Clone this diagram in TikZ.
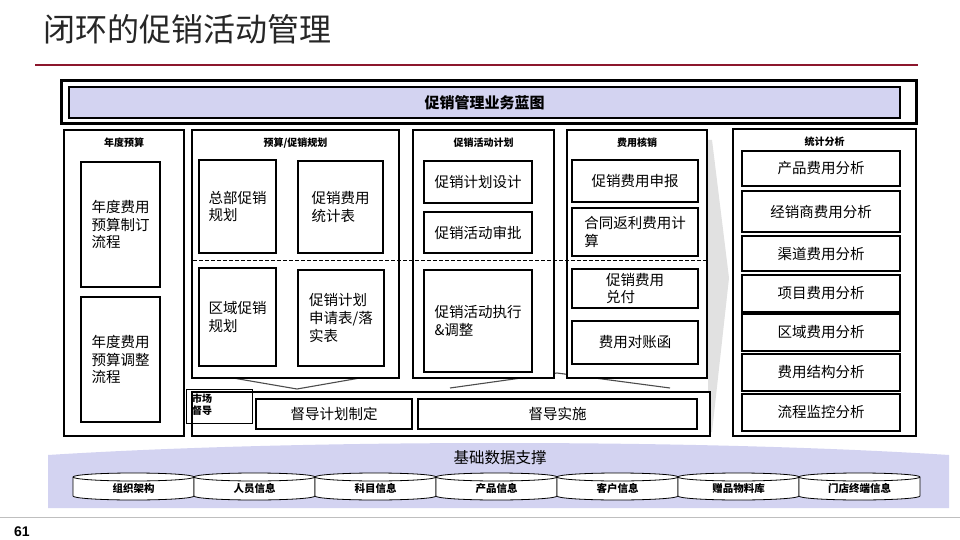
\documentclass[tikz,border=0pt]{standalone}
\usepackage{fontspec}
\setmainfont{Noto Sans CJK SC}
\newfontfamily\numfont{Liberation Sans}
\definecolor{lav}{RGB}{211,211,241}
\definecolor{redline}{RGB}{140,22,44}
\definecolor{arrowgray}{RGB}{225,225,225}
\newcommand\pbox[7][]{\node[#1,minimum width={#5-#3},minimum height={#6-#4}] (#2) at ({(#3+#5)/2},{(#4+#6)/2}) {#7};}
\tikzset{
  panel/.style={draw,line width=2.2pt,fill=white,inner sep=0pt,outer sep=0pt},
  ibox/.style={draw,line width=1.8pt,fill=white,inner sep=0pt,outer sep=0pt,align=left,font=\fontsize{14.5}{17.7}\selectfont},
  ttl/.style={font=\bfseries\fontsize{10}{12}\selectfont,inner sep=0pt,text height=8pt,text depth=1.5pt},
  cyl/.style={draw,line width=0.8pt,fill=white},
  cyllab/.style={font=\bfseries\fontsize{10.5}{12}\selectfont,inner sep=0pt,text height=8.5pt,text depth=1.5pt},
  vline/.style={draw=black!70,line width=1.1pt},
}
\begin{document}
\begin{tikzpicture}[x=1pt,y=-1pt]
\useasboundingbox (0,0) rectangle (960,540);
% title
\node[anchor=west,inner sep=0pt,text=black!85,font=\fontsize{32}{36}\selectfont] (title) at (43,29) {闭环的促销活动管理};
\draw[redline,line width=2.5pt] (35,65) -- (918,65);
% footer
\draw[black!25,line width=1pt] (0,517) -- (960,517);
\node[anchor=west,inner sep=0pt,font=\numfont\bfseries\fontsize{14}{16}\selectfont] (pnum) at (14,532) {61};
% header
\pbox[draw,line width=3pt,fill=white,inner sep=0pt]{hdrout}{61}{81}{916}{124}{}
\pbox[draw,line width=2pt,fill=lav,inner sep=0pt,font=\bfseries\fontsize{15}{18}\selectfont]{hdr}{69}{87}{900}{118}{促销管理业务蓝图}
% base band
\fill[lav] (48,455) .. controls (300,439) and (700,439) .. (949,455) -- (949,508) -- (48,508) -- cycle;
\node[inner sep=0pt,font=\fontsize{15.5}{18}\selectfont] (base) at (500,458) {基础数据支撑};
\foreach \lab [count=\i from 0] in {组织架构,人员信息,科目信息,产品信息,客户信息,赠品物料库,门店终端信息} {
  \pgfmathsetmacro\xa{73+121*\i}
  \pgfmathsetmacro\xc{\xa+60.5}
  \pgfmathsetmacro\xb{\xa+121}
  \draw[cyl] (\xa,477) -- (\xa,496) arc[start angle=180,end angle=0,x radius=60.5,y radius=4] -- (\xb,477) arc[start angle=0,end angle=-180,x radius=60.5,y radius=4] -- cycle;
  \draw[line width=0.8pt] (\xa,477) arc[start angle=180,end angle=0,x radius=60.5,y radius=4];
  \node[cyllab] (cyl\i) at (\xc,489) {\lab};
}
% gray arrow
\fill[arrowgray] (708,140) -- (712,140) -- (729,278) -- (712,432) -- (708,432) -- cycle;
% connector lines (behind)
\coordinate (va) at (233,378);
\coordinate (vb) at (297,389);
\coordinate (vc) at (360,378);
\coordinate (wa) at (450,388);
\coordinate (wb) at (557,373);
\coordinate (wc) at (670,388);
\draw[vline] (va) -- (vb) -- (vc);
\draw[vline] (wa) -- (wb) -- (wc);
% panels
\pbox[panel]{p1}{64}{130}{184}{436}{}
\pbox[panel]{p2}{192}{130}{399}{378}{}
\pbox[panel]{p3}{413}{130}{554}{378}{}
\pbox[panel]{p4}{567}{130}{707}{378}{}
\pbox[panel]{p5}{733}{129}{916}{436}{}
\node[ttl] (t1) at (124,143) {年度预算};
\node[ttl] (t2) at (295.5,143) {预算/促销规划};
\node[ttl] (t3) at (483.5,143) {促销活动计划};
\node[ttl] (t4) at (637,143) {费用核销};
\node[ttl] (t5) at (824.5,142) {统计分析};
% dashed separator
\coordinate (da) at (193,260);
\coordinate (db) at (707,260);
\draw[line width=0.8pt,dash pattern=on 4pt off 2pt] (da) -- (db);
% panel 1
\pbox[ibox]{b11}{81}{162}{160}{287}{年度费用\\预算制订\\流程}
\pbox[ibox]{b12}{81}{297}{160}{422}{年度费用\\预算调整\\流程}
% panel 2
\pbox[ibox]{b21}{199}{160}{276}{253}{总部促销\\规划}
\pbox[ibox]{b22}{298}{161}{383}{253}{促销费用\\统计表}
\pbox[ibox]{b23}{199}{268}{276}{366}{区域促销\\规划}
\pbox[ibox]{b24}{298}{270}{384}{366}{促销计划\\申请表/落\\实表}
% panel 3
\pbox[ibox]{b31}{424}{161}{532}{203}{促销计划设计}
\pbox[ibox]{b32}{424}{212}{532}{253}{促销活动审批}
\pbox[ibox]{b33}{424}{270}{532}{372}{促销活动执行\\\&调整}
% panel 4
\pbox[ibox]{b41}{572}{160}{698}{202}{促销费用申报}
\pbox[ibox]{b42}{572}{208}{698}{256}{合同返利费用计\\算}
\pbox[ibox]{b43}{572}{269}{698}{308}{促销费用\\兑付}
\pbox[ibox]{b44}{572}{321}{698}{364}{费用对账函}
% panel 5
\pbox[ibox]{s1}{742}{151}{900}{186}{产品费用分析}
\pbox[ibox]{s2}{742}{191}{900}{232}{经销商费用分析}
\pbox[ibox]{s3}{742}{236}{900}{271}{渠道费用分析}
\pbox[ibox]{s4}{742}{275}{900}{312}{项目费用分析}
\pbox[ibox]{s5}{742}{314}{900}{351}{区域费用分析}
\pbox[ibox]{s6}{742}{354}{900}{391}{费用结构分析}
\pbox[ibox]{s7}{742}{394}{900}{431}{流程监控分析}
% supervision
\pbox[panel,line width=2.5pt]{sup}{192}{392}{710}{436}{}
\pbox[ibox]{sup1}{256}{399}{412}{429}{督导计划制定}
\pbox[ibox]{sup2}{418}{399}{697}{429}{督导实施}
\pbox[draw,line width=0.6pt,inner sep=0pt]{mkt}{186}{389}{252}{423}{}
\node[anchor=north west,inner sep=0pt,align=left,font=\bfseries\fontsize{10}{12}\selectfont] (mktt) at (192,394) {市场\\督导};
\end{tikzpicture}
\end{document}
